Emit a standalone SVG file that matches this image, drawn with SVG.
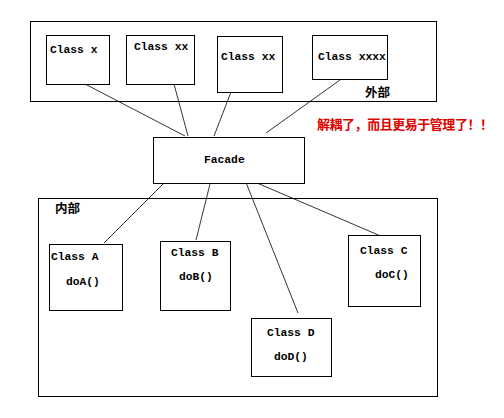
<svg xmlns="http://www.w3.org/2000/svg" width="504" height="418" viewBox="0 0 504 418">
<style>
.box{fill:#fff;stroke:#000;stroke-width:1}
.area{fill:none;stroke:#000;stroke-width:1}
.t{font-family:"Liberation Mono",monospace;font-weight:bold;font-size:11.3px;fill:#000}
.cjk{font-family:"Noto Sans CJK SC",sans-serif;font-weight:bold;font-size:12.5px;fill:#000}
.note{font-family:"Noto Sans CJK SC",sans-serif;font-weight:bold;font-size:13px;fill:#e00000}
.c line{stroke:#000;stroke-width:0.8}
</style>
<rect width="504" height="418" fill="#fff"/>
<g id="outer">
<rect class="area" x="30.5" y="21.5" width="406" height="80"/>
<text class="cjk" x="365" y="97">外部</text>
</g>
<g id="inner">
<rect class="area" x="38.5" y="198.5" width="399" height="198"/>
<text class="cjk" x="55" y="213">内部</text>
</g>
<g class="c" id="connectors">
<line x1="85" y1="84" x2="185" y2="136"/>
<line x1="174" y1="84" x2="188" y2="136"/>
<line x1="231" y1="92" x2="214" y2="136"/>
<line x1="340" y1="80" x2="266" y2="133"/>
<line x1="163" y1="184" x2="104" y2="243"/>
<line x1="210" y1="184" x2="196" y2="240"/>
<line x1="245" y1="180" x2="298" y2="313"/>
<line x1="257" y1="183" x2="383" y2="237"/>
</g>
<g id="classX"><rect class="box" x="46.5" y="35.5" width="63" height="49"/><text class="t" x="50" y="53">Class x</text></g>
<g id="classXX"><rect class="box" x="126.5" y="35.5" width="68" height="49"/><text class="t" x="134" y="50">Class xx</text></g>
<g id="classXX2"><rect class="box" x="217.5" y="36.5" width="65" height="56"/><text class="t" x="221" y="60">Class xx</text></g>
<g id="classXXXX"><rect class="box" x="312.5" y="35.5" width="75" height="44"/><text class="t" x="318" y="60">Class xxxx</text></g>
<g id="facade"><rect class="box" x="153.5" y="137.5" width="151" height="46"/><text class="t" x="204" y="163">Facade</text></g>
<text class="note" x="317" y="129" textLength="176" lengthAdjust="spacing">解耦了，而且更易于管理了！！</text>
<g id="classA"><rect class="box" x="49.5" y="244.5" width="73" height="66"/><text class="t" x="51" y="260">Class A</text><text class="t" x="66" y="285">doA()</text></g>
<g id="classB"><rect class="box" x="160.5" y="241.5" width="70" height="69"/><text class="t" x="171" y="256">Class B</text><text class="t" x="179" y="280">doB()</text></g>
<g id="classC"><rect class="box" x="348.5" y="235.5" width="72" height="71"/><text class="t" x="360" y="254">Class C</text><text class="t" x="375" y="278">doC()</text></g>
<g id="classD"><rect class="box" x="251.5" y="318.5" width="80" height="58"/><text class="t" x="267" y="336">Class D</text><text class="t" x="274" y="360">doD()</text></g>
</svg>
